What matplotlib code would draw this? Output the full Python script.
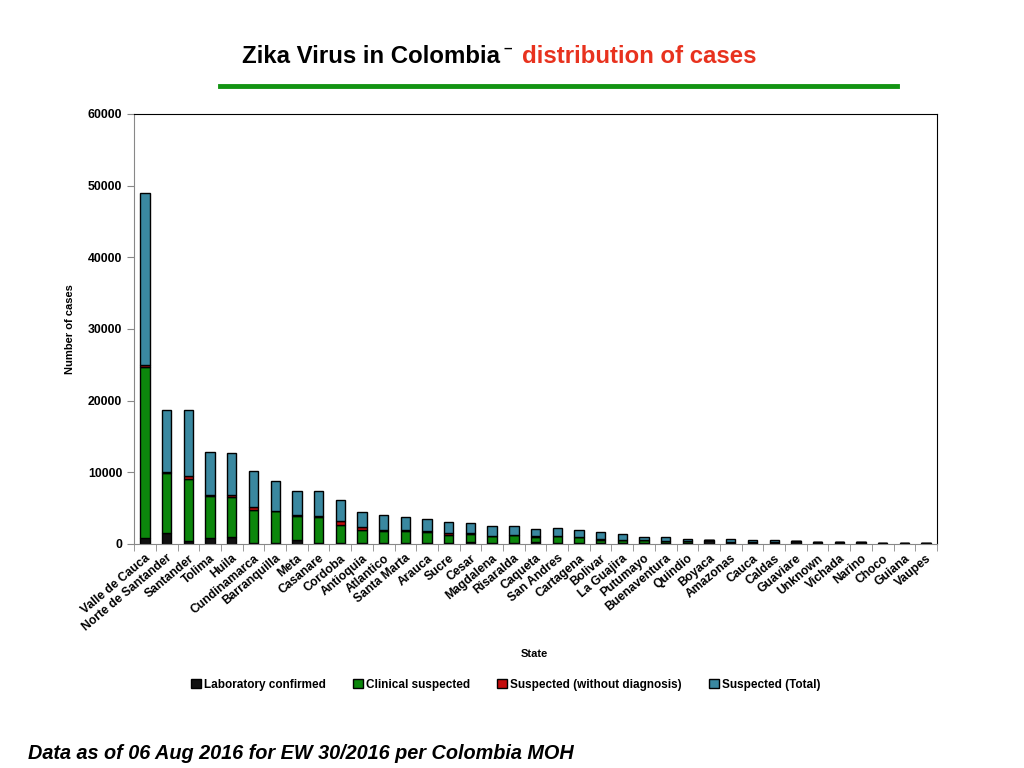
import numpy as np
import matplotlib.pyplot as plt
from matplotlib.lines import Line2D

plt.rcParams['font.family'] = ['Liberation Sans', 'DejaVu Sans']
plt.rcParams['font.weight'] = 'bold'

states = ["Valle de Cauca", "Norte de Santander", "Santander", "Tolima", "Huila",
          "Cundinamarca", "Barranquilla", "Meta", "Casanare", "Cordoba",
          "Antioquia", "Atlantico", "Santa Marta", "Arauca", "Sucre", "Cesar",
          "Magdalena", "Risaralda", "Caqueta", "San Andres", "Cartagena",
          "Bolivar", "La Guajira", "Putumayo", "Buenaventura", "Quindio",
          "Boyaca", "Amazonas", "Cauca", "Caldas", "Guaviare", "Unknown",
          "Vichada", "Narino", "Choco", "Guiana", "Vaupes"]

# segment heights (cases)
lab_confirmed = [900, 1500, 400, 850, 1000, 200, 200, 500, 200, 200,
                 200, 150, 150, 150, 200, 250, 150, 150, 280, 150, 100,
                 200, 200, 100, 100, 100, 560, 80, 80, 80, 420, 280,
                 280, 280, 140, 140, 140]
clinical = [23750, 8450, 8700, 5800, 5600, 4600, 4350, 3350, 3500, 2400,
            1800, 1700, 1700, 1570, 1050, 1150, 970, 1050, 720, 970, 830,
            360, 300, 400, 320, 350, 0, 200, 150, 150, 0, 0,
            0, 0, 0, 0, 0]
no_diag = [300, 100, 400, 250, 200, 350, 0, 150, 150, 550,
           300, 100, 100, 50, 350, 100, 50, 50, 100, 50, 50,
           150, 100, 0, 0, 0, 0, 0, 0, 0, 0, 0,
           0, 0, 0, 0, 0]
susp_total = [24050, 8600, 9150, 6000, 5850, 5050, 4200, 3350, 3500, 2950,
              2120, 2050, 1770, 1680, 1430, 1400, 1300, 1220, 950, 1030, 920,
              920, 750, 430, 510, 250, 0, 420, 330, 330, 0, 0,
              0, 0, 0, 0, 0]

series = [("Laboratory confirmed", lab_confirmed, "#111111"),
          ("Clinical suspected", clinical, "#0c870c"),
          ("Suspected (without diagnosis)", no_diag, "#c40c0c"),
          ("Suspected (Total)", susp_total, "#3a88a0")]

fig = plt.figure(figsize=(10.24, 7.68), dpi=100)
ax = fig.add_axes([0.131, 0.2917, 0.784, 0.56])

x = np.arange(len(states))
bottom = np.zeros(len(states))
for name, vals, col in series:
    vals = np.array(vals, dtype=float)
    ax.bar(x, vals, bottom=bottom, width=0.43, color=col, edgecolor="black",
           linewidth=1.0, label=name)
    bottom += vals

ax.set_xlim(-0.5, len(states) - 0.5)
ax.set_ylim(0, 60000)
ax.set_yticks(np.arange(0, 60001, 10000))
ax.set_xticks(x)
ax.set_xticklabels(states, rotation=40, ha="right", rotation_mode="anchor",
                   fontsize=8.7, fontweight="bold")
ax.set_xticks(np.arange(-0.5, len(states)), minor=True)
ax.tick_params(axis="x", which="major", length=0, pad=6)
ax.tick_params(axis="x", which="minor", length=5, color="#888888", direction="out")
ax.tick_params(axis="y", length=5, color="#888888", labelsize=8.8)
for lbl in ax.get_yticklabels():
    lbl.set_fontweight("bold")

ax.spines["left"].set_color("#888888")
ax.spines["bottom"].set_color("#888888")
ax.spines["top"].set_color("black")
ax.spines["right"].set_color("black")

# axis titles
fig.text(70 / 1024, 1 - 329 / 768, "Number of cases", rotation=90, ha="center",
         va="center", fontsize=8, fontweight="bold")
fig.text(534 / 1024, 1 - 654 / 768, "State", ha="center", va="center",
         fontsize=8, fontweight="bold")

fig.legend(loc="center", bbox_to_anchor=(0.494, 0.108), ncol=4, frameon=False,
           fontsize=8.5, handlelength=0.8, handleheight=0.8, handletextpad=0.3,
           columnspacing=2.3)

# title
fig.text(500 / 1024, 0.927, "Zika Virus in Colombia", ha="right", va="center",
         fontsize=17.3, fontweight="bold", color="black")
fig.text(503 / 1024, 0.937, "\u2013", ha="left", va="center",
         fontsize=11, fontweight="bold", color="black")
fig.text(522 / 1024, 0.927, "distribution of cases", ha="left", va="center",
         fontsize=17.3, fontweight="bold", color="#e8321e")
fig.add_artist(Line2D([0.215, 0.876], [0.888, 0.888], color="#139413", lw=3.5,
                      transform=fig.transFigure))

fig.text(0.027, 0.019, "Data as of 06 Aug 2016 for EW 30/2016 per Colombia MOH",
         ha="left", va="center", fontsize=14.3, fontweight="bold", style="italic")

fig.savefig("out.png", dpi=100)
